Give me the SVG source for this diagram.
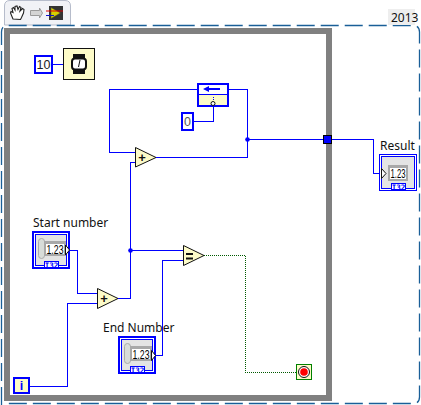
<svg xmlns="http://www.w3.org/2000/svg" width="421" height="405" viewBox="0 0 421 405">
<style>
text{font-family:"Noto Sans","Open Sans","Liberation Sans",sans-serif;fill:#111}
.lbl{font-size:12px}
.val{font-family:"Liberation Sans",sans-serif;font-size:12px;text-anchor:middle;fill:#000}
.num{font-family:"Liberation Sans",sans-serif;font-size:12.5px;text-anchor:middle;fill:#222}
.w{fill:none;stroke:#0000ff;stroke-width:1;shape-rendering:crispEdges}
.d{fill:none;stroke:#005a00;stroke-width:1;stroke-dasharray:1 1;shape-rendering:crispEdges}
.j{fill:#0000ff}
.box{fill:#fff;stroke:#0000ff;stroke-width:2;shape-rendering:crispEdges}
.tri{fill:#fdfbc8;stroke:#111;stroke-width:1}
.frame{fill:none;stroke:#808080;stroke-width:6;shape-rendering:crispEdges}
.ctlo{fill:#fff;stroke:#0000ff;stroke-width:2;shape-rendering:crispEdges}
.ctli{fill:#e4e4e4;stroke:#0000ff;stroke-width:1;shape-rendering:crispEdges}
.tab{fill:#fff;stroke:#0000ff;stroke-width:1;shape-rendering:crispEdges}
.i32{font-family:"DejaVu Sans Mono",monospace;font-size:7.500px;font-weight:700;fill:#0000ff;text-anchor:middle}
.surr{fill:#a8a8a8;shape-rendering:crispEdges}
.disp{fill:#fff;shape-rendering:crispEdges}
.spin{fill:#d8dcd8;stroke:#aaa;stroke-width:1}
.sym{fill:#111;font-family:"Liberation Sans",sans-serif;font-weight:700;font-size:13px;text-anchor:middle}
</style>
<g id="toolbar">
<path d="M4.500 25V6Q4.500 .5 10 .5H65Q70.500 .5 70.500 6V25Z" fill="#f1f2f6" stroke="#b6bccb"/>
<path d="M13 19L10.500 13L11 11.500L13 12.500L12 8.500L13.500 7.500L15 10L15 6.500L17 6L18 9.500L19.500 6.500L21 7.500L20 11L22.500 8.500L24 9.500L23.500 13L21.500 17.500L20.500 19.500Z" fill="#fff" stroke="#222" stroke-width="1.100"/>
<path d="M30.500 10.500h9V8l3 5-3 5v-2.500h-9z" fill="#d4d4d4" stroke="#9a9a9a"/>
<rect x="49" y="6" width="14" height="14" fill="#333"/>
<path d="M51 7.500l9.500 5.500-9.500 5.500z" fill="#d7d100" stroke="#443" stroke-width=".5"/>
<path d="M46 11h17" stroke="#d00" stroke-width="1"/><path d="M46 15.500h8" stroke="#11c" stroke-width="1"/>
</g>
<g id="frame">
<path d="M1.500 405V32Q1.500 25.500 8 25.500H413Q419.500 25.500 419.500 32V397Q419.500 403.500 413 403.500H4" fill="none" stroke="#1a5f98" stroke-width="1.300" stroke-dasharray="18 6"/>
<rect x="7" y="31" width="322" height="367" class="frame"/>
<rect x="388" y="9" width="27" height="16" fill="#eeeeee"/>
<text x="391" y="22" class="lbl">2013</text>
</g>
<g id="connectors">
<path class="w" d="M52 64.500H63"/>
<path class="w" d="M197 89.500H109.500V152.500H135"/>
<path class="w" d="M229 89.500H247.500V157.500H156"/>
<path class="w" d="M194 121.500H213.500V105"/>
<path class="w" d="M247 139.500H373.500V173.500H381"/>
<path class="w" d="M135 162.500H130.500V298.500H118"/>
<path class="w" d="M130.500 250.500H183"/>
<path class="w" d="M70 250.500H77.500V293.500H97"/>
<path class="w" d="M29 386.500H67.500V303.500H97"/>
<path class="w" d="M156 355.500H162.500V260.500H183"/>
<path class="d" d="M204 255.500H245.500V372.500H296"/>
<circle class="j" cx="247.500" cy="139.500" r="2.300"/>
<circle class="j" cx="130.500" cy="250.500" r="2.300"/>
<rect x="323.500" y="135.500" width="8" height="8" fill="#0000ff" stroke="#000" stroke-width="1" shape-rendering="crispEdges"/>
</g>
<g id="const10"><rect class="box" x="35" y="56" width="17" height="17"/><text class="num" x="43.500" y="69">10</text></g>
<g id="timer"><rect x="63.500" y="48.500" width="31" height="31" fill="#fdfbc8" stroke="#111"/>
<path d="M73 54h12v6h-12zM73 68h12v6h-12z" fill="#111"/><rect x="72" y="58.500" width="14" height="11" rx="3" fill="#fff" stroke="#111" stroke-width="2"/><path d="M80 60l-1.500 7" stroke="#111"/></g>
<g id="feedback"><rect x="198" y="84" width="30" height="22" fill="#fdfbc8" stroke="#0000ff" stroke-width="2" shape-rendering="crispEdges"/><rect x="199" y="85" width="28" height="9" fill="#fff"/><path d="M199 94.500H227" stroke="#0000ff" shape-rendering="crispEdges"/><path d="M203 89l6-3v2h11v2h-11v2z" fill="#0000ff"/><circle cx="213" cy="103.500" r="2" fill="#fff" stroke="#111"/><path d="M213.500 97v4" stroke="#0000ff" stroke-dasharray="1 1"/></g>
<g id="const0"><rect class="box" x="182" y="113" width="11" height="17"/><text class="num" x="187.500" y="126" style="fill:#555">0</text></g>
<g id="add1"><path class="tri" d="M135.500 147.500L156 157.500L135.500 167Z"/><text class="sym" x="142" y="161.500">+</text></g>
<g id="add2"><path class="tri" d="M97.500 288.500L118 298.500L97.500 308.500Z"/><text class="sym" x="104" y="303">+</text></g>
<g id="equal"><path class="tri" d="M183.500 245.500L204 255.500L183.500 265.500Z"/><path d="M186 253h7v2h-7zM186 257.500h7v2h-7z" fill="#111"/></g>
<g id="startNumber"><text class="lbl" x="33" y="227">Start number</text>
<rect class="ctlo" x="33" y="232" width="36" height="36"/><rect class="ctli" x="35.500" y="234.500" width="31" height="31"/>
<rect class="spin" x="38.500" y="238.500" width="6" height="20" rx="3"/><rect class="surr" x="44" y="241" width="22" height="15"/><rect class="disp" x="46" y="244" width="18" height="10"/><text class="val" x="55" y="253.500" textLength="17" lengthAdjust="spacingAndGlyphs">1.23</text>
<rect class="tab" x="44.500" y="261.500" width="14" height="6"/><text class="i32" x="51.500" y="267.500">I32</text><path d="M65.500 245l4 5-4 5z" fill="#fff" stroke="#111"/></g>
<g id="endNumber"><text class="lbl" x="103" y="332">End Number</text>
<rect class="ctlo" x="119" y="337" width="36" height="36"/><rect class="ctli" x="121.500" y="339.500" width="31" height="31"/>
<rect class="spin" x="124.500" y="343.500" width="6" height="20" rx="3"/><rect class="surr" x="130" y="346" width="22" height="15"/><rect class="disp" x="132" y="349" width="18" height="10"/><text class="val" x="141" y="358.500" textLength="17" lengthAdjust="spacingAndGlyphs">1.23</text>
<rect class="tab" x="130.500" y="366.500" width="14" height="6"/><text class="i32" x="137.500" y="372.500">I32</text><path d="M151.500 350.500l4 5-4 5z" fill="#fff" stroke="#111"/></g>
<g id="iterator"><rect class="box" x="14" y="378" width="15" height="15" style="fill:#fdfbc8"/><text class="num" x="21.500" y="390" style="fill:#0000ff;font-weight:700">i</text></g>
<g id="stop"><rect x="296.500" y="364.500" width="15" height="15" fill="#fdfbc8" stroke="#008000"/><circle cx="304" cy="372" r="5.500" fill="#fff" stroke="#111" stroke-width="1"/><circle cx="304" cy="372" r="3.800" fill="#f00"/></g>
<g id="result"><text class="lbl" x="380" y="150">Result</text>
<rect x="379.500" y="154.500" width="37" height="36" fill="#fff" stroke="#0000ff" stroke-width="1" shape-rendering="crispEdges"/><rect class="ctli" x="381.500" y="156.500" width="33" height="32"/>
<rect class="surr" x="388" y="165" width="20" height="16"/><rect class="disp" x="390" y="168" width="16" height="11"/><text class="val" x="398" y="178" textLength="15" lengthAdjust="spacingAndGlyphs">1.23</text>
<rect class="tab" x="391.500" y="183.500" width="14" height="6"/><text class="i32" x="398.500" y="189.500">I32</text><path d="M381.500 168.500l4.500 5-4.500 5z" fill="#fff" stroke="#111"/></g>
</svg>
